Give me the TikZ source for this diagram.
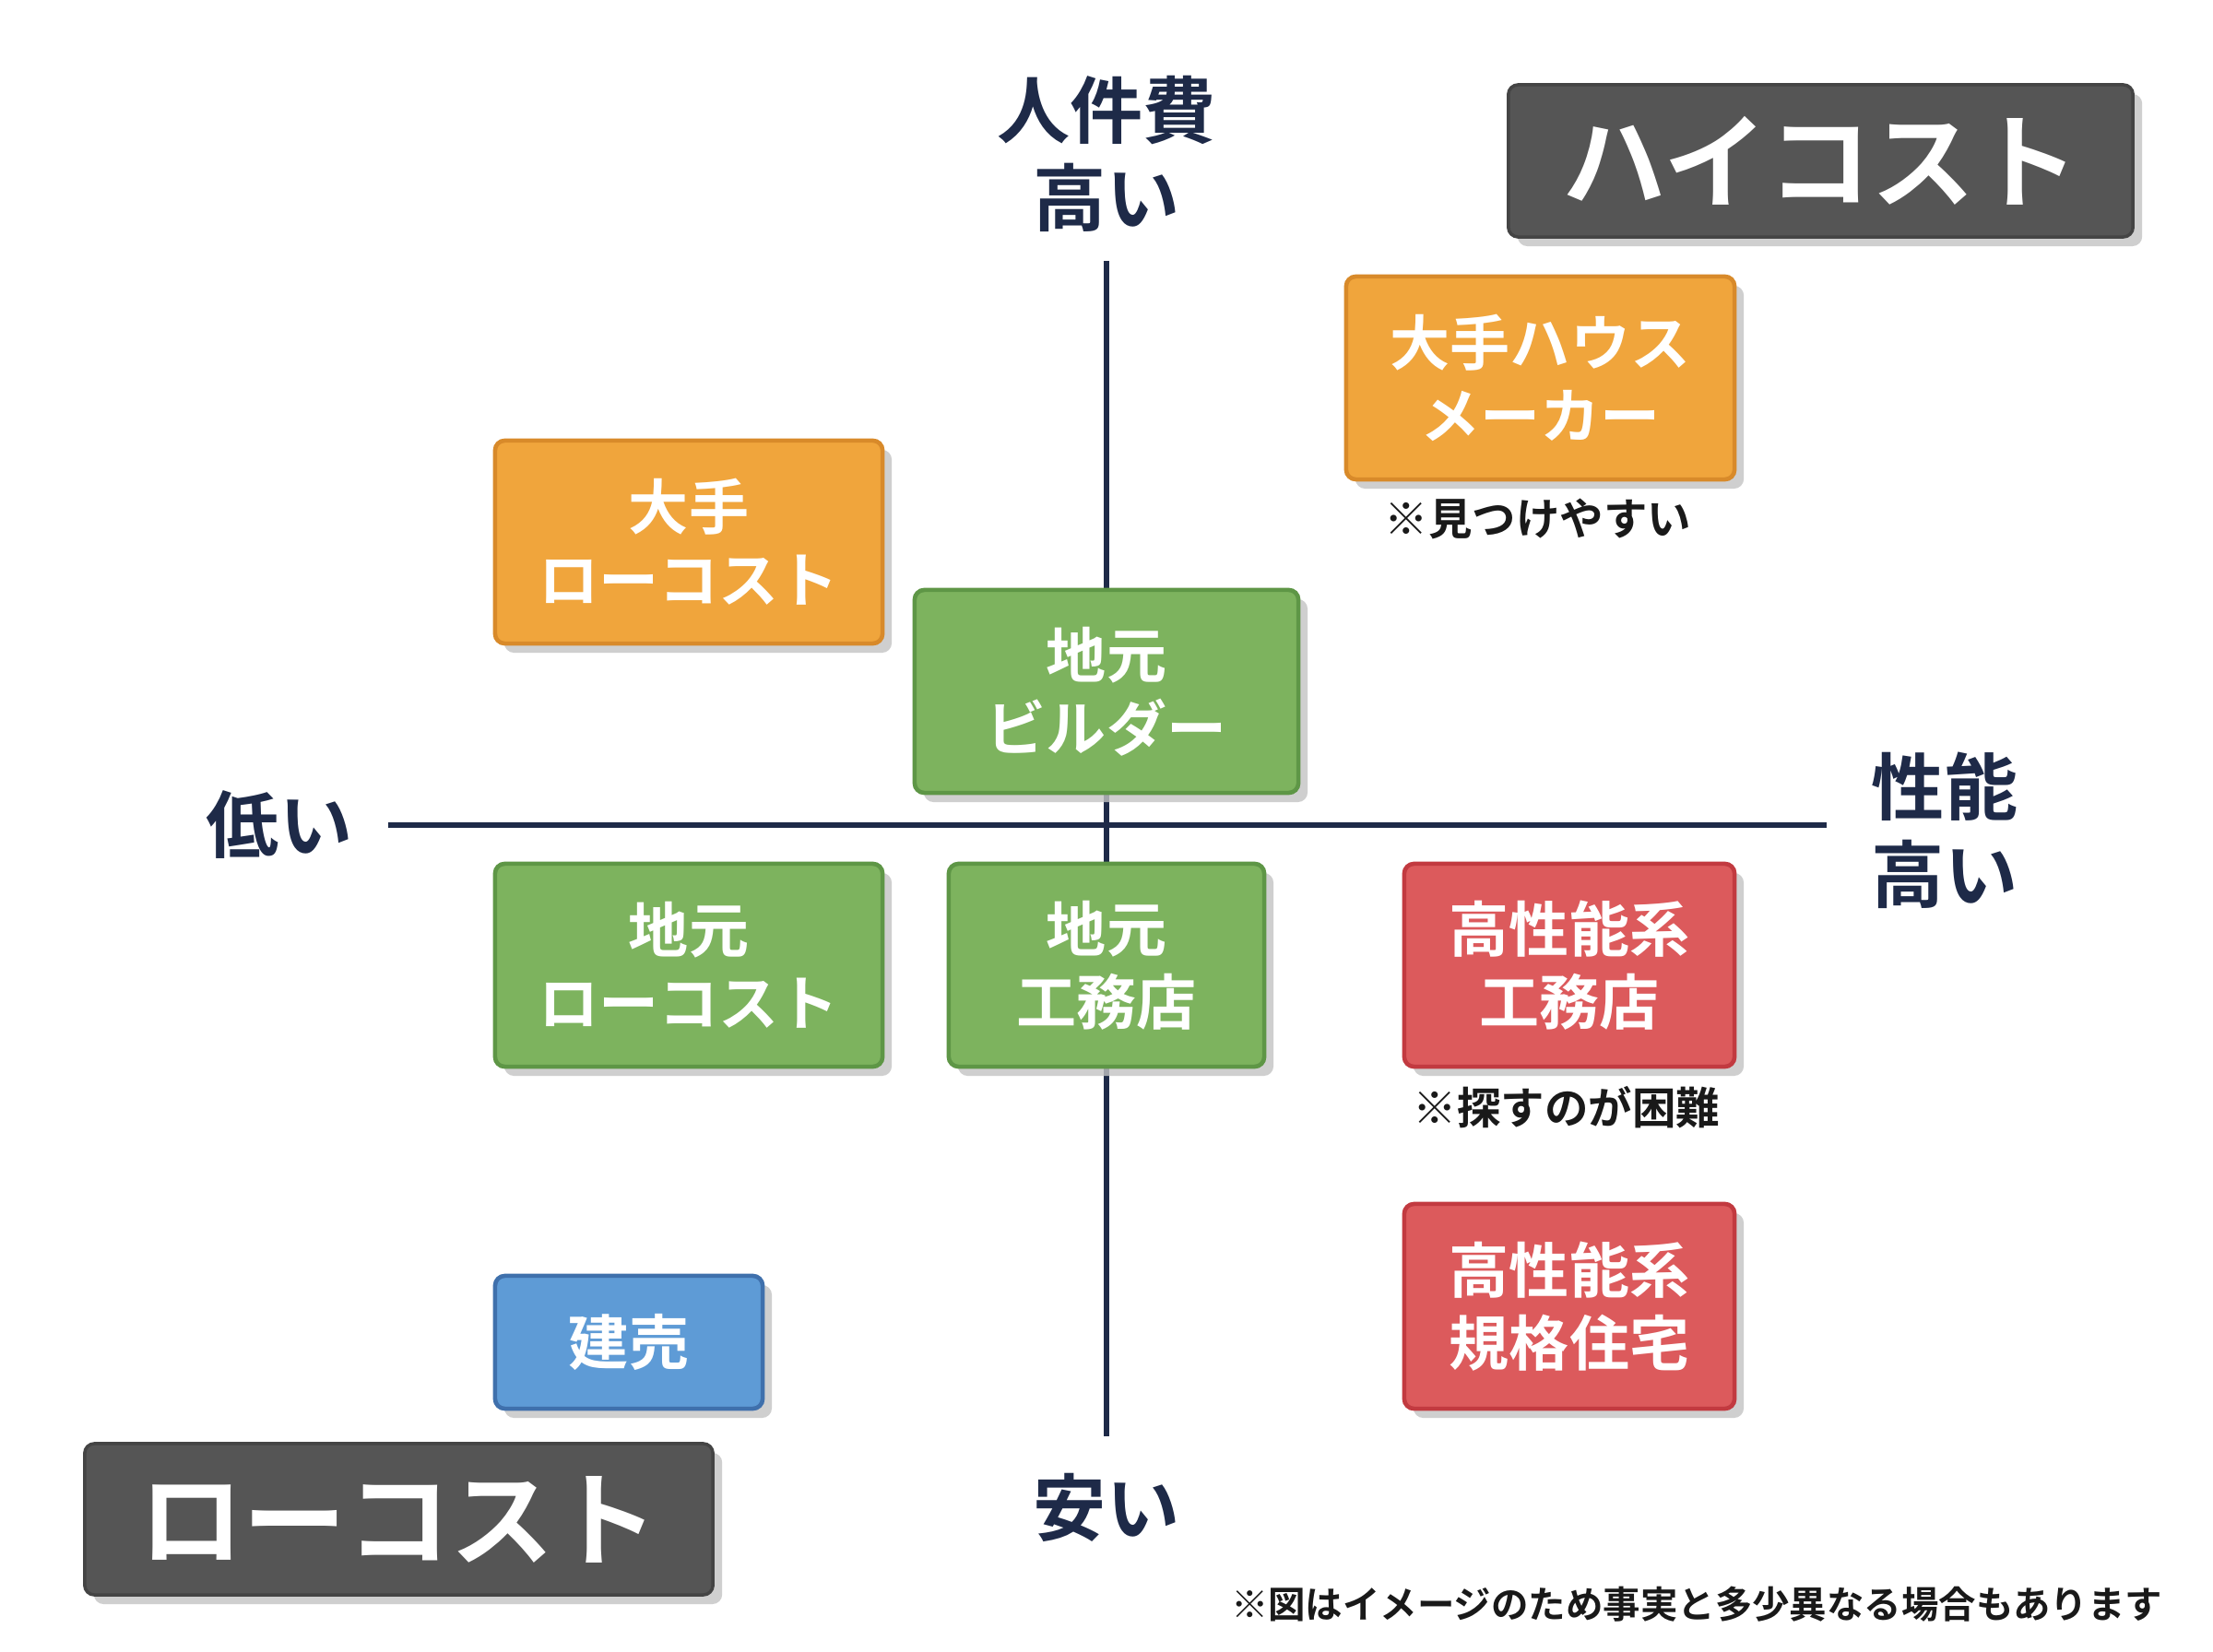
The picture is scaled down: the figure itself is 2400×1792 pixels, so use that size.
\documentclass[tikz,border=0pt]{standalone}
\usepackage{fontspec}
\setmainfont{Noto Sans CJK JP}[BoldFont={Noto Sans CJK JP Bold}]
\usetikzlibrary{shadows}
\definecolor{navy}{HTML}{1E2A48}
\definecolor{ofill}{HTML}{F0A53C}
\definecolor{odraw}{HTML}{D88A2A}
\definecolor{gfill}{HTML}{7DB35E}
\definecolor{gdraw}{HTML}{5E9646}
\definecolor{rfill}{HTML}{DC5A5C}
\definecolor{rdraw}{HTML}{C23A40}
\definecolor{bfill}{HTML}{5E9BD6}
\definecolor{bdraw}{HTML}{3F70AC}
\definecolor{kfill}{HTML}{555555}
\definecolor{shad}{HTML}{C4C4C4}
\tikzset{
  cbox/.style={rectangle, rounded corners=3pt, line width=1.3pt, align=center,
    text=white, font=\bfseries\fontsize{18.5}{22.5}\selectfont, inner sep=0pt,
    drop shadow={shadow xshift=0.1cm, shadow yshift=-0.1cm, fill=shad, opacity=0.8}},
  obox/.style={cbox, fill=ofill, draw=odraw},
  gbox/.style={cbox, fill=gfill, draw=gdraw},
  rbox/.style={cbox, fill=rfill, draw=rdraw},
  bbox/.style={cbox, fill=bfill, draw=bdraw},
  kbox/.style={rectangle, rounded corners=3pt, fill=kfill, draw=kfill!80!black, line width=1pt,
    text=white, font=\bfseries\fontsize{32}{36}\selectfont, inner sep=0pt,
    drop shadow={shadow xshift=0.1cm, shadow yshift=-0.1cm, fill=shad, opacity=0.8}},
  axlabel/.style={text=navy, align=center, font=\bfseries\fontsize{22.5}{27}\selectfont, inner sep=0pt},
  note/.style={text=black!90, font=\bfseries\fontsize{13.5}{16}\selectfont, inner sep=0pt},
  fnote/.style={text=black!90, font=\bfseries\fontsize{11.5}{14}\selectfont, inner sep=0pt},
  axis/.style={draw=navy, line width=1.5pt}
}
\begin{document}
\begin{tikzpicture}[x=0.01cm, y=-0.01cm]
\fill[white] (0,0) rectangle (2400,1792);
\useasboundingbox (0,0) rectangle (2400,1792);
% axes
\coordinate (top) at (1200,283);
\coordinate (bot) at (1200,1558);
\coordinate (lft) at (421,895);
\coordinate (rgt) at (1981,895);
\draw[axis] (top) -- (bot);
\draw[axis] (lft) -- (rgt);
% axis labels
\node[axlabel] (ytop) at (1200,167) {人件費\\高い};
\node[axlabel] (ybot) at (1200,1635) {安い};
\node[axlabel] (xl) at (303,895) {低い};
\node[axlabel] (xr) at (2109,901) {性能\\高い};
% title boxes
\node[kbox, minimum width=6.77cm, minimum height=1.65cm] (hc) at (1974.5,174.5) {ハイコスト};
\node[kbox, minimum width=6.81cm, minimum height=1.64cm] (lc) at (432.5,1648) {ローコスト};
% category boxes
\node[obox, minimum width=4.21cm, minimum height=2.2cm] (ohm) at (1670.5,410) {大手ハウス\\メーカー};
\node[note] (n1) at (1668,563) {※見つけやすい};
\node[obox, minimum width=4.2cm, minimum height=2.2cm] (olc) at (747,588) {大手\\ローコスト};
\node[gbox, minimum width=4.16cm, minimum height=2.2cm] (gb) at (1200,750) {地元\\ビルダー};
\node[gbox, minimum width=4.2cm, minimum height=2.2cm] (glc) at (747,1047) {地元\\ローコスト};
\node[gbox, minimum width=3.42cm, minimum height=2.2cm] (gkm) at (1200,1047) {地元\\工務店};
\node[rbox, minimum width=3.58cm, minimum height=2.2cm] (rkm) at (1702,1047) {高性能系\\工務店};
\node[note] (n2) at (1699,1201) {※探すのが困難};
\node[rbox, minimum width=3.58cm, minimum height=2.22cm] (rkk) at (1702,1417) {高性能系\\規格住宅};
\node[bbox, minimum width=2.9cm, minimum height=1.44cm] (tu) at (682,1456) {建売};
% footnote
\node[fnote, anchor=east] (fn) at (2346,1740) {※図はイメージのため事実と多少異なる場合もあります};
\end{tikzpicture}
\end{document}
